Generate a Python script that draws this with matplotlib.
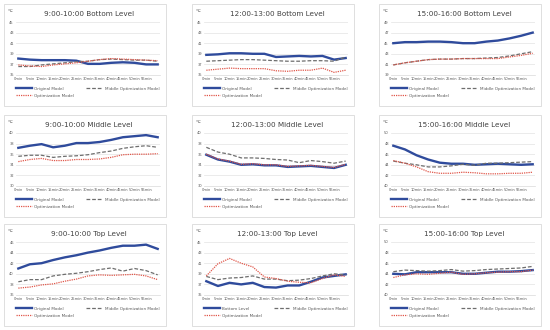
import matplotlib.pyplot as plt
from matplotlib.patches import Rectangle

# минуты (категории оси X)
minutes = [0, 5, 10, 15, 20, 25, 30, 35, 40, 45, 50, 55, 60]
tick_labels = ['0min', '5min', '10min', '15min', '20min', '25min', '30min',
               '35min', '40min', '45min', '50min', '55min']

titles = [
    '9:00-10:00 Bottom Level', '12:00-13:00 Bottom Level', '15:00-16:00 Bottom Level',
    '9:00-10:00 Middle Level', '12:00-13:00 Middle Level', '15:00-16:00 Middle Level',
    '9:00-10:00 Top Level', '12:00-13:00 Top Level', '15:00-16:00 Top Level',
]
y_ticks = [
    [35, 37, 39, 41, 43, 45], [35, 37, 39, 41, 43, 45], [39, 41, 43, 45, 47, 49],
    [30, 32, 34, 36, 38, 40], [30, 32, 34, 36, 38, 40], [40, 42, 44, 46, 48, 50],
    [36, 38, 40, 42, 44, 46], [35, 37, 39, 41, 43, 45], [40, 42, 44, 46, 48, 50],
]
first_labels = ['Original Model'] * 7 + ['Bottom Level', 'Original Model']

original = [
    [38.1, 37.9, 37.8, 37.8, 37.8, 37.7, 37.1, 37.1, 37.3, 37.4, 37.3, 37.0, 37.0],
    [38.8, 38.9, 39.1, 39.1, 39.0, 39.0, 38.4, 38.5, 38.6, 38.5, 38.6, 37.9, 38.2],
    [45.0, 45.2, 45.2, 45.3, 45.3, 45.2, 45.0, 45.0, 45.3, 45.5, 45.9, 46.4, 47.0],
    [37.2, 37.6, 37.9, 37.3, 37.6, 38.1, 38.1, 38.3, 38.7, 39.2, 39.4, 39.6, 39.2],
    [35.9, 35.0, 34.6, 34.0, 34.1, 33.9, 33.9, 33.6, 33.7, 33.8, 33.6, 33.4, 34.0],
    [47.6, 46.9, 45.8, 45.0, 44.4, 44.2, 44.2, 44.0, 44.1, 44.2, 44.1, 44.0, 44.1],
    [41.0, 41.8, 42.0, 42.6, 43.1, 43.5, 44.0, 44.4, 44.9, 45.3, 45.3, 45.5, 44.7],
    [37.6, 36.7, 37.3, 37.0, 37.3, 36.5, 36.4, 36.8, 36.8, 37.5, 38.3, 38.6, 38.9],
    [44.0, 43.9, 44.3, 44.3, 44.3, 44.3, 44.0, 44.0, 44.2, 44.4, 44.4, 44.5, 44.7],
]
middle = [
    [36.6, 36.6, 36.9, 37.1, 37.3, 37.5, 37.6, 37.9, 38.0, 37.9, 37.8, 37.8, 37.6],
    [37.6, 37.7, 37.8, 37.9, 37.9, 37.8, 37.7, 37.6, 37.6, 37.7, 37.7, 37.6, 38.4],
    [40.9, 41.3, 41.6, 41.9, 42.0, 42.0, 42.1, 42.1, 42.2, 42.3, 42.6, 43.0, 43.4],
    [35.6, 35.8, 35.8, 35.4, 35.6, 35.7, 35.9, 36.3, 36.6, 37.1, 37.4, 37.6, 37.3],
    [37.3, 36.4, 36.0, 35.3, 35.3, 35.2, 35.0, 34.9, 34.4, 34.8, 34.6, 34.3, 34.7],
    [44.7, 44.3, 44.0, 43.6, 43.6, 43.8, 44.1, 43.9, 44.3, 44.3, 44.4, 44.5, 44.6],
    [38.5, 38.9, 38.9, 39.6, 39.9, 40.1, 40.4, 40.8, 41.1, 40.5, 41.0, 40.6, 39.8],
    [38.5, 37.9, 38.2, 38.3, 38.6, 38.0, 38.0, 37.7, 37.8, 38.1, 38.6, 39.0, 38.8],
    [44.4, 44.7, 44.6, 44.5, 44.6, 44.8, 44.5, 44.6, 44.8, 44.9, 45.0, 45.1, 45.4],
]
optimized = [
    [36.9, 36.7, 36.6, 36.9, 37.1, 37.3, 37.6, 37.9, 38.1, 38.0, 37.9, 37.8, 37.7],
    [35.9, 36.1, 36.3, 36.2, 36.2, 36.2, 35.8, 35.7, 35.9, 35.9, 36.3, 35.5, 35.9],
    [40.9, 41.3, 41.6, 41.9, 42.0, 42.0, 42.1, 42.1, 42.1, 42.1, 42.4, 42.7, 43.1],
    [34.6, 35.0, 35.2, 34.8, 34.8, 35.0, 35.0, 35.1, 35.4, 35.9, 36.0, 36.0, 36.1],
    [36.0, 35.1, 34.7, 34.1, 34.2, 34.0, 34.0, 33.7, 33.8, 33.9, 33.7, 33.5, 34.1],
    [44.8, 44.3, 43.6, 42.7, 42.4, 42.4, 42.6, 42.5, 42.3, 42.3, 42.4, 42.4, 42.6],
    [37.3, 37.5, 37.9, 38.1, 38.6, 39.0, 39.6, 39.8, 39.7, 39.8, 39.9, 39.6, 38.9],
    [38.6, 40.9, 41.9, 41.0, 40.3, 38.4, 38.1, 37.6, 37.4, 37.3, 38.1, 38.8, 38.5],
    [43.3, 43.8, 44.0, 43.9, 44.1, 44.3, 43.9, 44.0, 44.2, 44.3, 44.4, 44.4, 44.7],
]

W, H = 550, 330
fig = plt.figure(figsize=(W / 100, H / 100), dpi=100)
fig.patch.set_facecolor('white')

col_left = [4, 192, 379]
row_top = [4, 115, 224]
box_w, box_h = 162, 102

for i in range(9):
    bx = col_left[i % 3]
    by = row_top[i // 3]

    # рамка как у диаграммы Excel
    fig.add_artist(Rectangle((bx / W, 1 - (by + box_h) / H), box_w / W, box_h / H,
                             transform=fig.transFigure, fill=False,
                             edgecolor='#d9d9d9', linewidth=0.6))

    ax = fig.add_axes([(bx + 12) / W, 1 - (by + 71) / H, 144 / W, 53 / H])
    l1, = ax.plot(minutes, original[i], color='#2f4b9c', linewidth=1.7)
    l2, = ax.plot(minutes, middle[i], color='#6e6e6e', linewidth=0.9, linestyle=(0, (3, 1.5)))
    l3, = ax.plot(minutes, optimized[i], color='#e0574a', linewidth=0.9, linestyle=(0, (1, 0.8)))

    yt = y_ticks[i]
    ax.set_ylim(yt[0], yt[-1])
    ax.set_yticks(yt)
    ax.set_xlim(-1, 61)
    ax.set_xticks(minutes[:-1])
    ax.set_xticklabels(tick_labels)
    ax.tick_params(labelsize=2.6, length=0, pad=1.5, colors='#595959')
    ax.grid(axis='y', color='#e3e3e3', linewidth=0.5)
    ax.set_axisbelow(True)
    for s in ax.spines.values():
        s.set_visible(False)
    ax.spines['bottom'].set_visible(True)
    ax.spines['bottom'].set_color('#d9d9d9')
    ax.spines['bottom'].set_linewidth(0.5)

    fig.text((bx + box_w / 2 + 4) / W, 1 - (by + 10) / H, titles[i],
             ha='center', va='center', fontsize=5.2, color='#404040')
    fig.text((bx + 4) / W, 1 - (by + 7) / H, '℃', ha='left', va='center',
             fontsize=3.2, color='#595959')

    fig.legend([l1, l3, l2], [first_labels[i], 'Optimization Model', 'Middle Optimization Model'],
               loc='upper left', bbox_to_anchor=((bx + 10) / W, 1 - (by + 81) / H),
               ncol=2, fontsize=3.0, frameon=False, handlelength=3.8,
               columnspacing=3.0, labelspacing=0.7, handletextpad=0.6,
               borderaxespad=0, labelcolor='#595959')

fig.savefig('out.png', dpi=100)
